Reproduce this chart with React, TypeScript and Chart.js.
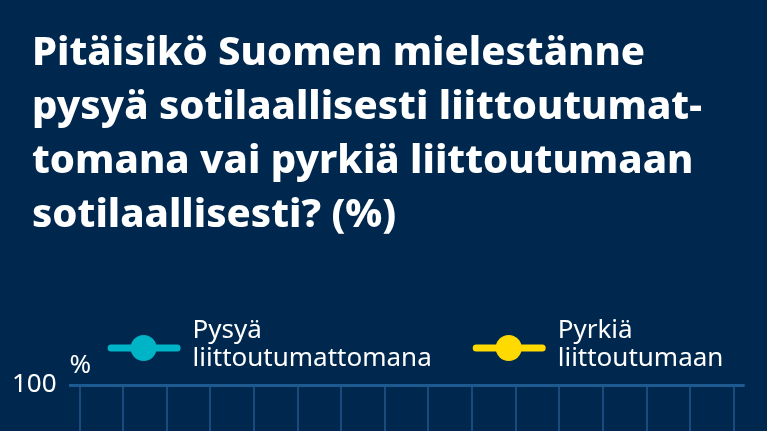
import React, { useEffect, useRef } from 'react';
import { Chart, registerables } from 'chart.js';

Chart.register(...registerables);

// survey years (x-axis)
const years = [2007, 2008, 2009, 2010, 2011, 2012, 2013, 2014, 2015, 2016, 2017, 2018, 2019, 2020, 2021, 2022];
// % answering "stay non-aligned"
const stayValues = [72, 73, 70, 71, 71, 70, 70, 65, 61, 61, 62, 61, 56, 55, 55, 28];
// % answering "seek alignment"
const joinValues = [25, 24, 27, 26, 27, 28, 28, 31, 35, 34, 33, 35, 41, 41, 41, 68];
const seriesNames = [
  ['Pysyä', 'liittoutumattomana'],
  ['Pyrkiä', 'liittoutumaan'],
];
const titleLines = [
  'Pitäisikö Suomen mielestänne',
  'pysyä sotilaallisesti liittoutumat-',
  'tomana vai pyrkiä liittoutumaan',
  'sotilaallisesti? (%)',
];
const yTicks = [0, 20, 40, 60, 80, 100];
const unitLabel = '%';

const BG = '#00284f';
const CYAN = '#00b4c8';
const YELLOW = '#ffda00';
const GRID = '#1a4b7c';
const FONT = '"Noto Sans", sans-serif';

// title, two-line legend with line + dot markers, and the unit label
const decorPlugin = {
  id: 'decor',
  afterDraw(chart: Chart) {
    const { ctx, chartArea } = chart;
    ctx.save();
    ctx.textBaseline = 'alphabetic';
    ctx.textAlign = 'left';

    ctx.fillStyle = '#ffffff';
    ctx.font = `800 40px ${FONT}`;
    titleLines.forEach((line, i) => {
      ctx.fillText(line, 32, 65 + i * 54);
    });

    const markerW = 73;
    const markerY = chartArea.top - 37;
    let x = chartArea.left + 39;
    ctx.font = `26px ${FONT}`;
    chart.data.datasets.forEach((ds: any, i: number) => {
      const color = ds.borderColor as string;
      ctx.strokeStyle = color;
      ctx.fillStyle = color;
      ctx.lineWidth = 7;
      ctx.lineCap = 'round';
      ctx.beginPath();
      ctx.moveTo(x + 3.5, markerY);
      ctx.lineTo(x + markerW - 3.5, markerY);
      ctx.stroke();
      ctx.beginPath();
      ctx.arc(x + 36, markerY, 13, 0, Math.PI * 2);
      ctx.fill();

      const lines = seriesNames[i];
      ctx.fillStyle = '#ffffff';
      lines.forEach((line, j) => {
        ctx.fillText(line, x + markerW + 12, chartArea.top - 47 + j * 28);
      });
      const w = Math.max(...lines.map((l) => ctx.measureText(l).width));
      x += markerW + 12 + w + 41;
    });

    ctx.fillStyle = '#ffffff';
    ctx.font = `26px ${FONT}`;
    ctx.fillText(unitLabel, chartArea.left + 1, chartArea.top - 12);
    ctx.restore();
  },
};

const App: React.FC = () => {
  const chartRef = useRef<HTMLCanvasElement | null>(null);

  useEffect(() => {
    document.body.style.margin = '0';
    document.body.style.background = BG;
    document.body.style.overflow = 'hidden';
    document.documentElement.style.overflow = 'hidden';

    let chartInstance: Chart | null = null;
    const ctx = chartRef.current?.getContext('2d');
    if (ctx) {
      chartInstance = new Chart(ctx, {
        type: 'line',
        data: {
          datasets: [
            {
              label: seriesNames[0].join(' '),
              data: years.map((y, i) => ({ x: y, y: stayValues[i] })),
              borderColor: CYAN,
              backgroundColor: CYAN,
              borderWidth: 4,
              pointRadius: 6,
            },
            {
              label: seriesNames[1].join(' '),
              data: years.map((y, i) => ({ x: y, y: joinValues[i] })),
              borderColor: YELLOW,
              backgroundColor: YELLOW,
              borderWidth: 4,
              pointRadius: 6,
            },
          ],
        },
        options: {
          animation: false,
          responsive: false,
          layout: { padding: { left: 0, right: 21, top: 385, bottom: 10 } },
          plugins: {
            legend: { display: false },
            tooltip: { enabled: false },
            title: { display: false },
          },
          scales: {
            x: {
              type: 'linear',
              min: years[0] - 0.25,
              max: years[years.length - 1] + 0.25,
              afterBuildTicks: (axis: any) => {
                axis.ticks = years.map((v) => ({ value: v }));
              },
              border: { display: false },
              grid: { color: GRID, lineWidth: 2, drawTicks: false },
              ticks: {
                color: '#ffffff',
                font: { family: FONT, size: 20 },
                padding: 10,
                maxRotation: 0,
                autoSkip: false,
                callback: (v: any) => String(v),
              },
            },
            y: {
              min: 0,
              max: 100,
              afterBuildTicks: (axis: any) => {
                axis.ticks = yTicks.map((v) => ({ value: v }));
              },
              border: { display: false },
              grid: { color: '#1d5a92', lineWidth: 3, drawTicks: false },
              ticks: {
                color: '#ffffff',
                font: { family: FONT, size: 26 },
                padding: 12,
              },
            },
          },
        },
        plugins: [decorPlugin],
      });
    }

    return () => {
      if (chartInstance) {
        chartInstance.destroy();
      }
    };
  }, []);

  return (
    <div style={{ width: '767px', height: '900px', background: BG }}>
      <canvas ref={chartRef} width={767} height={900} style={{ display: 'block' }}></canvas>
    </div>
  );
};

export default App;
